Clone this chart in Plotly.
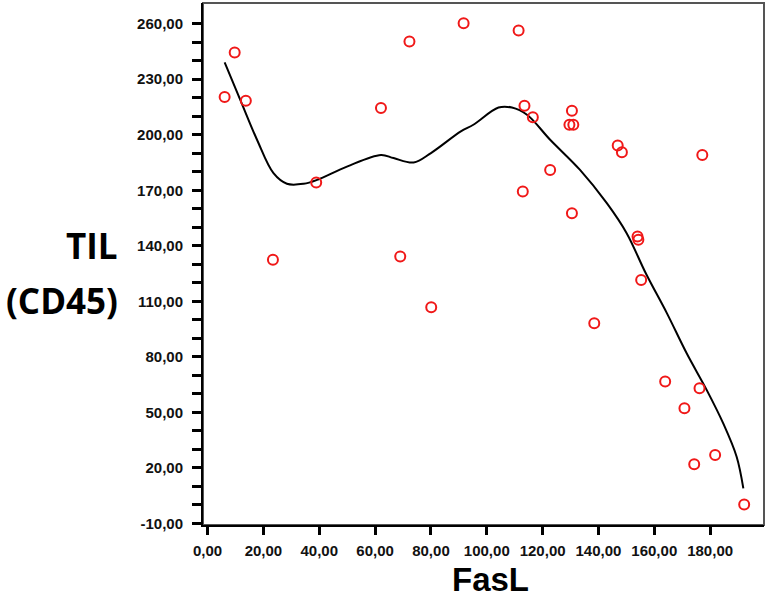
import plotly.graph_objects as go

# scatter points (FasL vs TIL CD45)
fasl = [6.1, 9.7, 13.7, 23.4, 38.9, 62.1, 69.0, 72.3, 80.1, 91.7,
        111.4, 113.5, 116.5, 112.9, 122.7, 130.5, 129.6, 131.0, 130.5, 138.5,
        146.9, 148.4, 154.0, 154.3, 155.3, 163.9, 170.8, 174.3, 176.2, 177.2,
        181.8, 192.2]
til = [220.4, 244.5, 218.4, 132.4, 174.2, 214.4, 134.2, 250.4, 106.8, 260.2,
       256.4, 215.7, 209.5, 169.3, 181.0, 213.0, 205.4, 205.4, 157.6, 98.1,
       194.2, 190.6, 145.0, 143.3, 121.5, 66.6, 52.2, 21.9, 63.0, 189.1,
       26.9, 0.2]

# loess fit line
fit_x = [6.1, 11.7, 17.7, 23.6, 28.4, 34.4, 39.2, 49.9, 62.1, 66.6, 73.8,
         80.0, 90.7, 95.2, 104.2, 109.0, 114.4, 122.7, 133.4, 143.0, 150.1,
         157.0, 164.5, 171.6, 178.8, 184.7, 189.5, 191.9]
fit_y = [239.1, 218.9, 197.3, 179.2, 173.5, 173.5, 175.6, 182.8, 189.1, 187.4,
         185.0, 190.1, 201.8, 205.4, 214.7, 214.7, 210.8, 197.3, 181.0, 163.0,
         146.8, 125.0, 103.6, 81.9, 62.0, 44.0, 26.0, 8.9]

x_ticks = list(range(0, 181, 20))
x_labels = ["%d,00" % v for v in x_ticks]
y_ticks = list(range(-10, 261, 10))
y_labels = ["%d,00" % v if (v + 10) % 30 == 0 else "" for v in y_ticks]

fig = go.Figure()

fig.add_trace(go.Scatter(
    x=fit_x, y=fit_y, mode="lines",
    line=dict(color="black", width=2, shape="spline", smoothing=1.0),
    hoverinfo="skip",
))

fig.add_trace(go.Scatter(
    x=fasl, y=til, mode="markers",
    marker=dict(symbol="circle-open", size=10, color="#f01818",
                line=dict(width=2, color="#f01818")),
))

tickfont = dict(family="Liberation Sans", size=15, color="#111", weight="bold")

fig.update_xaxes(
    range=[-1.65, 199.3], tickvals=x_ticks, ticktext=x_labels,
    ticks="outside", ticklen=8, tickwidth=3, tickcolor="black",
    ticklabelstandoff=3,
    showline=True, linecolor="black", linewidth=2,
    showgrid=False, zeroline=False, tickfont=tickfont, automargin=False,
)
fig.update_yaxes(
    range=[-10.9, 271.2], tickvals=y_ticks, ticktext=y_labels,
    ticks="outside", ticklen=9, tickwidth=3, tickcolor="black",
    ticklabelstandoff=6,
    showline=True, linecolor="black", linewidth=2,
    showgrid=False, zeroline=False, tickfont=tickfont, automargin=False,
)

# frame on top and right
fig.add_shape(type="rect", xref="paper", yref="paper", x0=0, y0=0, x1=1, y1=1,
              line=dict(color="#555555", width=2), layer="below")

titlefont = dict(family="Open Sans", size=35, color="black", weight="bold")
fig.add_annotation(text="TIL", xref="paper", yref="paper",
                   x=-0.148, y=0.536, xanchor="right", yanchor="middle",
                   showarrow=False, font=titlefont)
fig.add_annotation(text="(CD45)", xref="paper", yref="paper",
                   x=-0.148, y=0.43, xanchor="right", yanchor="middle",
                   showarrow=False, font=titlefont)
fig.add_annotation(text="FasL", xref="paper", yref="paper",
                   x=0.512, y=-0.105, xanchor="center", yanchor="middle",
                   showarrow=False,
                   font=dict(family="Liberation Sans", size=33, color="black",
                             weight="bold"))

fig.update_layout(
    width=774, height=599,
    margin=dict(l=203, r=10, t=3, b=74),
    plot_bgcolor="white", paper_bgcolor="white",
    showlegend=False,
)

# drop the browser's default body margin so the figure sits at the page corner
fig.write_html("out.html", config={"displayModeBar": False},
               post_script="document.body.style.margin='0';")
